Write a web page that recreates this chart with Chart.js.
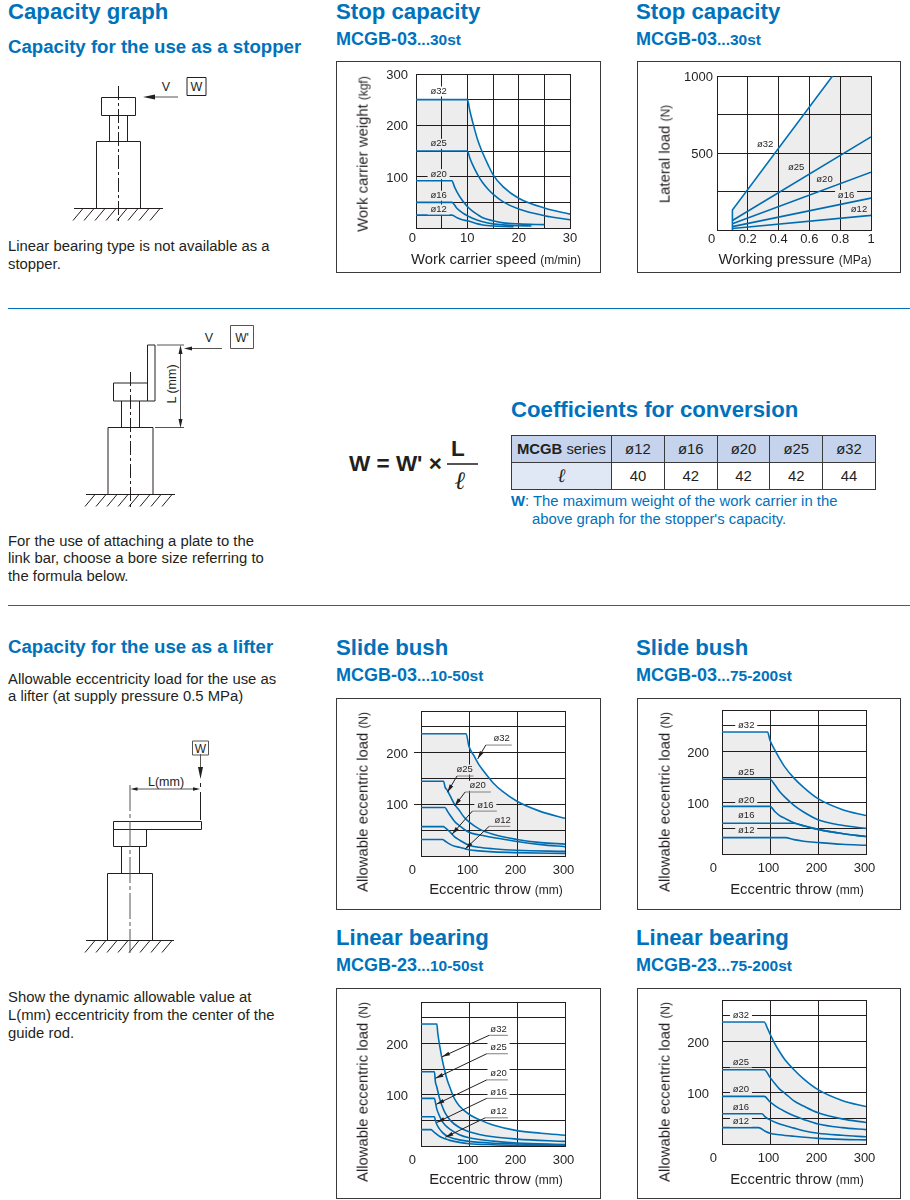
<!DOCTYPE html>
<html lang="en">
<head>
<meta charset="UTF-8">
<title>MCGB capacity graphs</title>
<script src="https://cdn.jsdelivr.net/npm/chart.js"></script>
<style>
    html, body { margin: 0; padding: 0; background: #fff; }
    body { position: relative; width: 910px; height: 1200px; overflow: hidden; font-family: "Liberation Sans", Arial, sans-serif; color: #231f20; }
    .t { position: absolute; white-space: nowrap; line-height: 1; }
    .h1 { font-size: 22.2px; font-weight: bold; color: #0072bc; }
    .h2 { font-size: 18.65px; font-weight: bold; color: #0072bc; }
    .h3 { font-size: 18px; font-weight: bold; color: #0072bc; }
    .h3 small { font-size: 15.5px; }
    .b { font-size: 14.85px; }
    .note { font-size: 14.85px; color: #0072bc; }
    .rule { position: absolute; left: 8px; width: 902px; height: 1px; background: #0072bc; }
    .frame { position: absolute; box-sizing: border-box; border: 1px solid #3a3a3a; }
    canvas { position: absolute; }
    .xt, .yt { position: absolute; white-space: nowrap; line-height: 1; font-size: 14.85px; }
    .xt small, .yt small { font-size: 12px; }
    .xt { transform: translate(-50%, -50%); }
    .yt { transform: translate(-50%, -50%) rotate(-90deg); }
    table { position: absolute; left: 511px; top: 435px; width: 365px; height: 53px; border-collapse: collapse; table-layout: fixed; font-size: 14.85px; }
    td { border: 1px solid #3a3a3a; text-align: center; padding: 0; height: 26px; }
    .hd { background: #c5d4ec; }
    .sub { background: #e1e8f5; font-family: "Liberation Serif", serif; font-style: italic; font-size: 19px; }
    svg { position: absolute; left: 0; top: 0; }
    svg text { font-family: "Liberation Sans", Arial, sans-serif; fill: #231f20; }
</style>
</head>
<body>

<svg width="910" height="1200" fill="none" stroke="#231f20" stroke-width="1">
    <!-- stopper sketch -->
    <path d="M101.5 97.5h34v18h-34zM109.5 115.5v26M127.5 115.5v26M96.5 141.5h44v67h-44zM74 208.5h89"/>
    <path d="M83 208.5l-10 12M94 208.5l-10 12M105 208.5l-10 12M116 208.5l-10 12M127 208.5l-10 12M138 208.5l-10 12M149 208.5l-10 12M160 208.5l-10 12"/>
    <path d="M118.5 86v136" stroke-dasharray="14 3 3 3"/>
    <path d="M178 97h-28" stroke="#555"/><path d="M143 97l12-2.500v5z" fill="#231f20" stroke="none"/>
    <path d="M187 77.500h19v18h-19z"/>
    <text x="166" y="91" font-size="12.5" text-anchor="middle" stroke="none">V</text>
    <text x="196.500" y="91" font-size="12.500" text-anchor="middle" stroke="none">W</text>

    <!-- plate sketch -->
    <path d="M147.500 345h7.500v56h-7.500zM113.500 383h34v18h-34zM121.500 401v27M139.500 401v27M108 427.500h45v67h-45zM86 494.500h89"/>
    <path d="M95 494.500l-10 12M106 494.500l-10 12M117 494.500l-10 12M128 494.500l-10 12M139 494.500l-10 12M150 494.500l-10 12M161 494.500l-10 12M172 494.500l-10 12"/>
    <path d="M130.500 372v137" stroke-dasharray="14 3 3 3"/>
    <path d="M157 345h27M155 427.500h29M180.500 349v75" stroke="#555"/>
    <path d="M180.500 345l-2 9h4zM180.500 428l-2-9h4z" fill="#231f20" stroke="none"/>
    <path d="M222 348.500h-34" stroke="#555"/><path d="M184 348.500l8-2v4z" fill="#231f20" stroke="none"/>
    <path d="M230.500 325.500h23v23h-23z" stroke="#555"/>
    <text x="209" y="342" font-size="12.500" text-anchor="middle" stroke="none">V</text>
    <text x="242" y="342" font-size="12" text-anchor="middle" stroke="none">W'</text>
    <text transform="translate(176 384) rotate(-90)" font-size="12.500" text-anchor="middle" stroke="none">L (mm)</text>

    <!-- lifter sketch -->
    <path d="M113.500 821.500h88v8h-88zM113.500 829.500h33v17h-33zM121.500 846.500v27M139.500 846.500v27M107.500 873.500h45v67h-45zM86 940.500h88"/>
    <path d="M95 940.500l-10 12M106 940.500l-10 12M117 940.500l-10 12M128 940.500l-10 12M139 940.500l-10 12M150 940.500l-10 12M161 940.500l-10 12M172 940.500l-10 12"/>
    <path d="M130 785v168" stroke="#555" stroke-dasharray="26 3 4 3"/>
    <path d="M200.500 754v18" stroke="#555"/><path d="M200.500 779l-2.500-12h5z" fill="#231f20" stroke="none"/>
    <path d="M200.500 783v4M200.500 792v28"/>
    <path d="M134 789h63" stroke="#555"/><path d="M130.500 789l7-1.800v3.600zM200 789l-7-1.800v3.600z" fill="#231f20" stroke="none"/>
    <path d="M192.500 741h16v14h-16z" stroke="#555"/>
    <text x="200.500" y="752.500" font-size="12" text-anchor="middle" stroke="none">W</text>
    <text x="166" y="786" font-size="12.500" text-anchor="middle" stroke="none">L(mm)</text>
</svg>

<div class="t h1" style="left:8px;top:1px">Capacity graph</div>
<div class="t h2" style="left:8px;top:38px">Capacity for the use as a stopper</div>
<div class="t b" style="left:8px;top:239px">Linear bearing type is not available as a</div>
<div class="t b" style="left:8px;top:257px">stopper.</div>

<div class="t h1" style="left:336px;top:1px">Stop capacity</div>
<div class="t h3" style="left:336px;top:30px">MCGB-03<small>...30st</small></div>
<div class="t h1" style="left:636px;top:1px">Stop capacity</div>
<div class="t h3" style="left:636px;top:30px">MCGB-03<small>...30st</small></div>

<div class="rule" style="top:308px"></div>

<div class="t b" style="left:8px;top:534px">For the use of attaching a plate to the</div>
<div class="t b" style="left:8px;top:551px">link bar, choose a bore size referring to</div>
<div class="t b" style="left:8px;top:569px">the formula below.</div>

<div class="t" style="left:349px;top:453px;font-size:22.5px;font-weight:bold">W = W' ×</div>
<div class="t" style="left:451px;top:438px;font-size:22.5px;font-weight:bold">L</div>
<div class="t" style="left:447px;top:463px;width:31px;height:2px;background:#555"></div>
<div class="t" style="left:455px;top:468px;font-size:25px;font-weight:bold;font-style:italic;font-family:'Liberation Serif',serif">ℓ</div>

<div class="t h1" style="left:511px;top:399px">Coefficients for conversion</div>
<table>
    <colgroup><col style="width:100px"><col><col><col><col><col></colgroup>
    <tr class="hd"><td><b>MCGB</b> series</td><td>ø12</td><td>ø16</td><td>ø20</td><td>ø25</td><td>ø32</td></tr>
    <tr><td class="sub">ℓ</td><td>40</td><td>42</td><td>42</td><td>42</td><td>44</td></tr>
</table>
<div class="t note" style="left:511px;top:494px"><b>W</b>: The maximum weight of the work carrier in the</div>
<div class="t note" style="left:532px;top:512px">above graph for the stopper's capacity.</div>

<div class="rule" style="top:605px"></div>

<div class="t h2" style="left:8px;top:638px">Capacity for the use as a lifter</div>
<div class="t b" style="left:8px;top:672px">Allowable eccentricity load for the use as</div>
<div class="t b" style="left:8px;top:689px">a lifter (at supply pressure 0.5 MPa)</div>

<div class="t h1" style="left:336px;top:637px">Slide bush</div>
<div class="t h3" style="left:336px;top:666px">MCGB-03<small>...10-50st</small></div>
<div class="t h1" style="left:636px;top:637px">Slide bush</div>
<div class="t h3" style="left:636px;top:666px">MCGB-03<small>...75-200st</small></div>
<div class="t h1" style="left:336px;top:927px">Linear bearing</div>
<div class="t h3" style="left:336px;top:956px">MCGB-23<small>...10-50st</small></div>
<div class="t h1" style="left:636px;top:927px">Linear bearing</div>
<div class="t h3" style="left:636px;top:956px">MCGB-23<small>...75-200st</small></div>

<div class="t b" style="left:8px;top:990px">Show the dynamic allowable value at</div>
<div class="t b" style="left:8px;top:1008px">L(mm) eccentricity from the center of the</div>
<div class="t b" style="left:8px;top:1026px">guide rod.</div>

<script>
// tick positions and their labels
const speedTicks = [0, 5, 10, 15, 20, 25, 30]
const speedLabels = ['0  ', '', '10', '', '20', '', '30']
const weightTicks = [0, 50, 100, 150, 200, 250, 300]
const weightLabels = ['', '', '100', '', '200', '', '300']
const pressureTicks = [0, 0.2, 0.4, 0.6, 0.8, 1]
const pressureLabels = ['0   ', '0.2', '0.4', '0.6', '0.8', '1']
const lateralTicks = [0, 250, 500, 750, 1000]
const lateralLabels = ['', '', '500', '', '1000']
const throwTicks = [0, 100, 200, 300]
const throwLabels = ['0    ', '100', '200', '300']
const loadTicks = [0, 50, 100, 150, 200, 250, 281]
const loadLabels = ['', '', '100', '', '200', '', '']

const bores = ['ø32', 'ø25', 'ø20', 'ø16', 'ø12']

// Stop capacity, speed / weight
const speed32 = [[0,250],[10,250],[10.5,228],[11,208],[12,172],[13,146],[14,124],[15,104],[17,80],[20,58],[25,39],[30,27]]
const speed25 = [[0,150],[10,150],[10.5,136],[11,124],[12,104],[13,88],[14,76],[15,66],[17,51],[20,37],[25,24],[30,16]]
const speed20 = [[0,92],[7,92],[7.5,80],[8,70],[9,54],[10,42],[11,33],[12,26],[13,20],[15,14],[17,10],[20,8],[25,6.5]]
const speed16 = [[0,50],[7,50],[8,38],[9,30],[10,24],[11,19],[12,15],[13,12],[15,8],[17,6],[20,4.5],[22.5,4]]
const speed12 = [[0,25],[7,25],[8,20],[9,16],[10,14],[12,8],[13,6],[15,4],[17,3],[19,2.5]]

// Stop capacity, pressure / lateral load
const press32 = [[0.1,0],[0.1,130],[0.75,1000]]
const press25 = [[0.1,62],[1,605]]
const press20 = [[0.1,40],[1,375]]
const press16 = [[0.1,22],[1,207]]
const press12 = [[0.1,10],[1,95]]
const pressShade = [[0.1,0],[0.1,130],[0.75,1000],[1,1000]]

// Slide bush 10-50st
const bushA32 = [[0,237],[94,237],[100,212],[110,195],[120,178],[130,165],[150,142],[170,125],[200,106],[250,86],[300,73]]
const bushA25 = [[0,145],[47,145],[50,134],[55,127],[60,118],[70,100],[80,88],[90,75],[100,66],[120,53],[150,42],[200,32],[250,26],[300,23]]
const bushA20 = [[0,94],[50,94],[55,87],[60,80],[70,67],[80,59],[100,46],[120,41],[150,36],[200,28],[250,22],[300,18]]
const bushA16 = [[0,57],[47,57],[50,55],[60,47],[70,37],[80,31],[100,21],[120,17],[150,14],[200,11],[300,9]]
const bushA12 = [[0,32],[45,32],[50,29],[60,23],[70,19],[80,17],[100,12],[120,10],[150,8],[200,6.5],[300,5]]

// Slide bush 75-200st
const bushB32 = [[0,238],[95,238],[100,222],[110,203],[120,186],[130,171],[150,148],[170,130],[200,108],[250,87],[300,75]]
const bushB25 = [[0,146],[100,146],[110,135],[120,122],[130,112],[150,95],[170,82],[200,67],[250,56],[300,50]]
const bushB20 = [[0,93],[100,93],[110,83],[120,75],[130,70],[150,61],[170,55],[200,48],[250,40],[300,34]]
const bushB16 = [[0,60],[148,60],[170,55],[200,48],[250,40],[300,34]]
const bushB12 = [[0,32],[132,32],[150,28],[170,25],[200,22.5],[250,19],[300,17]]

// Linear bearing 10-50st
const lineA32 = [[0,238],[33,238],[35,220],[40,190],[45,165],[50,145],[55,128],[60,115],[66,100],[70,92],[80,78],[100,62],[125,50],[150,41],[200,30],[250,25],[300,21]]
const lineA25 = [[0,145],[28,145],[30,125],[33,115],[38,95],[44,78],[50,65],[61,50],[80,36],[100,28],[150,18],[200,13.5],[300,9]]
const lineA20 = [[0,93],[28,93],[30,85],[33,72],[37,62],[43,50],[50,41],[60,33],[80,22],[100,16],[150,9.5],[200,6],[300,3]]
const lineA16 = [[0,57],[28,57],[30,50],[33,42],[38,34],[44,27],[50,22],[60,17],[80,12],[100,9],[150,5.5],[200,4],[300,1.5]]
const lineA12 = [[0,32],[21,32],[25,29],[30,25],[40,18],[50,14],[60,11],[80,7],[100,4.5],[150,2.5],[200,1.5],[300,0.8]]

// Linear bearing 75-200st
const lineB32 = [[0,238],[88,238],[95,225],[100,215],[110,196],[120,180],[130,166],[150,145],[170,127],[200,106],[250,85],[300,73]]
const lineB25 = [[0,145],[88,145],[100,130],[110,118],[120,107],[130,100],[150,84],[170,74],[200,61],[250,49],[300,42]]
const lineB20 = [[0,93],[88,93],[100,82],[110,75],[120,69],[130,64],[150,55],[170,48],[200,39],[250,32],[300,28]]
const lineB16 = [[0,59],[83,59],[90,53],[100,47],[120,39],[150,31],[170,26],[200,21],[250,17],[300,14]]
const lineB12 = [[0,32],[76,32],[90,25],[100,21],[120,18],[150,15],[200,11],[250,9],[300,8]]

var ink = '#231f20'
var blue = '#0075bd'
var shade = 'rgba(0,0,0,0.07)'
var shadeSolid = '#ededed'

Chart.defaults.font.family = '"Liberation Sans", Arial, sans-serif'
Chart.defaults.color = ink

function notes(labels, leaders) {
    return {
        id: 'notes',
        afterDatasetsDraw(chart) {
            var c = chart.ctx, sx = chart.scales.x, sy = chart.scales.y
            c.save()
            c.font = '9.5px "Liberation Sans", Arial, sans-serif'
            c.textAlign = 'center'
            c.textBaseline = 'middle'
            labels.forEach(function (l, i) {
                var px = sx.getPixelForValue(l[0]), py = sy.getPixelForValue(l[1])
                c.fillStyle = l[2] ? '#fff' : shadeSolid
                c.fillRect(px - 11, py - 5, 22, 10)
            })
            ;(leaders || []).forEach(function (p) {
                var a = [0, 1, 2].map(function (i) { return [sx.getPixelForValue(p[i][0]), sy.getPixelForValue(p[i][1])] })
                c.strokeStyle = '#808080'
                c.lineWidth = 1
                c.beginPath(); c.moveTo(a[0][0], a[0][1]); c.lineTo(a[1][0], a[1][1]); c.stroke()
                c.strokeStyle = ink
                c.beginPath(); c.moveTo(a[1][0], a[1][1]); c.lineTo(a[2][0], a[2][1]); c.stroke()
                var ang = Math.atan2(a[2][1] - a[1][1], a[2][0] - a[1][0])
                c.save()
                c.translate(a[2][0], a[2][1])
                c.rotate(ang)
                c.fillStyle = ink
                c.beginPath(); c.moveTo(0, 0); c.lineTo(-8, -2); c.lineTo(-8, 2); c.closePath(); c.fill()
                c.restore()
            })
            labels.forEach(function (l, i) {
                c.fillStyle = ink
                c.fillText(bores[i], sx.getPixelForValue(l[0]), sy.getPixelForValue(l[1]))
            })
            c.restore()
        }
    }
}

function drawChart(o) {
    var f = o.frame, p = o.plot
    var frame = document.createElement('div')
    frame.className = 'frame'
    frame.style.cssText = 'left:' + f[0] + 'px;top:' + f[1] + 'px;width:' + (f[2] - f[0]) + 'px;height:' + (f[3] - f[1]) + 'px'
    document.body.appendChild(frame)

    var cv = document.createElement('canvas')
    cv.width = f[2] - f[0]
    cv.height = f[3] - f[1]
    cv.style.left = f[0] + 'px'
    cv.style.top = f[1] + 'px'
    document.body.appendChild(cv)

    var xt = document.createElement('div')
    xt.className = 'xt'
    xt.style.left = o.xTitlePos[0] + 'px'
    xt.style.top = o.xTitlePos[1] + 'px'
    xt.innerHTML = o.xTitle + ' <small>' + o.xUnit + '</small>'
    document.body.appendChild(xt)

    var yt = document.createElement('div')
    yt.className = 'yt'
    yt.style.left = o.yTitlePos[0] + 'px'
    yt.style.top = o.yTitlePos[1] + 'px'
    yt.innerHTML = o.yTitle + ' <small>' + o.yUnit + '</small>'
    document.body.appendChild(yt)

    var yW = 40, xH = 20
    var style = o.straight ? { tension: 0 } : { cubicInterpolationMode: 'monotone' }
    var sets = [Object.assign({ data: o.shade.map(toPoint), borderWidth: 0, pointRadius: 0, fill: 'origin', backgroundColor: shade, borderColor: 'transparent' }, style)]
    o.series.forEach(function (s) {
        sets.push(Object.assign({ data: s.map(toPoint), borderColor: blue, borderWidth: 1.6, pointRadius: 0, fill: false }, style))
    })
    var marks = o.yMarks || []

    new Chart(cv, {
        type: 'line',
        data: { datasets: sets },
        options: {
            responsive: false,
            animation: false,
            layout: { padding: { left: p[0] - f[0] - yW, right: f[2] - p[1], top: p[2] - f[1], bottom: f[3] - p[3] - xH } },
            plugins: { legend: { display: false }, tooltip: { enabled: false } },
            scales: {
                x: {
                    type: 'linear', min: o.xTicks[0], max: o.xTicks[o.xTicks.length - 1],
                    afterBuildTicks: function (s) { s.ticks = o.xTicks.map(function (v) { return { value: v } }) },
                    afterFit: function (s) { s.height = xH; s.paddingLeft = 0; s.paddingRight = 0 },
                    grid: { color: ink, lineWidth: 1, drawTicks: false },
                    border: { color: ink },
                    ticks: { autoSkip: false, maxRotation: 0, padding: o.xPad, labelOffset: o.xShift || 0, font: { size: 13 }, callback: function (v, i) { return o.xLabels[i] } }
                },
                y: {
                    type: 'linear', min: 0, max: o.yTicks[o.yTicks.length - 1],
                    afterBuildTicks: function (s) { s.ticks = o.yTicks.map(function (v) { return { value: v } }) },
                    // tick padding would otherwise push the plot area down
                    afterFit: function (s) { s.width = yW; s.paddingTop = 0; s.paddingBottom = 0 },
                    grid: {
                        color: ink, lineWidth: 1, drawTicks: marks.length > 0, tickLength: 7,
                        tickColor: function (c) { return c.tick && marks.includes(c.tick.value) ? ink : 'transparent' }
                    },
                    border: { color: ink },
                    ticks: { autoSkip: false, padding: o.yPad, labelOffset: 1.5, font: { size: 13 }, callback: function (v, i) { return o.yLabels[i] } }
                }
            }
        },
        plugins: [notes(o.labels, o.leaders)]
    })
}

function toPoint(p) { return { x: p[0], y: p[1] } }

// ------------------ stop capacity ------------------
drawChart({
    frame: [336, 61, 601, 273], plot: [416, 570, 74, 228],
    xTicks: speedTicks, xLabels: speedLabels, yTicks: weightTicks, yLabels: weightLabels, xPad: 3, yPad: 8,
    xTitle: 'Work carrier speed', xUnit: '(m/min)', xTitlePos: [496, 259],
    yTitle: 'Work carrier weight', yUnit: '(kgf)', yTitlePos: [363, 154],
    series: [speed32, speed25, speed20, speed16, speed12], shade: speed32,
    labels: [[4.4, 266, true], [4.4, 164], [4.4, 105], [4.4, 63], [4.4, 36]]
})
drawChart({
    frame: [637, 61, 901, 273], plot: [717, 871, 76, 230],
    xTicks: pressureTicks, xLabels: pressureLabels, yTicks: lateralTicks, yLabels: lateralLabels, xPad: 2, yPad: 4,
    xTitle: 'Working pressure', xUnit: '(MPa)', xTitlePos: [795, 259],
    yTitle: 'Lateral load', yUnit: '(N)', yTitlePos: [665, 154],
    series: [press32, press25, press20, press16, press12], shade: pressShade, straight: true,
    labels: [[0.313, 558, true], [0.514, 405], [0.698, 328], [0.838, 228], [0.922, 134]]
})

// ------------------ lifter ------------------
drawChart({
    frame: [336, 698, 601, 910], plot: [421, 565, 711, 856],
    xTicks: throwTicks, xLabels: throwLabels, yTicks: loadTicks, yLabels: loadLabels, xPad: 7, yPad: 6, xShift: -1.5, yMarks: [100, 200],
    xTitle: 'Eccentric throw', xUnit: '(mm)', xTitlePos: [496, 889],
    yTitle: 'Allowable eccentric load', yUnit: '(N)', yTitlePos: [363, 802],
    series: [bushA32, bushA25, bushA20, bushA16, bushA12], shade: bushA32,
    labels: [[168, 227, true], [91, 167.5], [118, 136], [134, 98], [170, 69]],
    leaders: [
        [[189, 215], [135, 215], [118, 188]],
        [[109.5, 155], [75, 155], [55, 123.5]],
        [[145.5, 124], [92, 124], [70, 97]],
        [[158, 87], [107, 87], [64.5, 42]],
        [[186, 57.5], [142, 57.5], [92, 13.6]]
    ]
})
drawChart({
    frame: [637, 698, 901, 910], plot: [722, 866, 710, 854],
    xTicks: throwTicks, xLabels: throwLabels, yTicks: loadTicks, yLabels: loadLabels, xPad: 7, yPad: 13, xShift: -1.5,
    xTitle: 'Eccentric throw', xUnit: '(mm)', xTitlePos: [797, 889],
    yTitle: 'Allowable eccentric load', yUnit: '(N)', yTitlePos: [665, 802],
    series: [bushB32, bushB25, bushB20, bushB16, bushB12], shade: bushB32,
    labels: [[50.5, 251, true], [50.5, 160], [50.5, 105.6], [50.5, 75.8], [50.5, 46]]
})
drawChart({
    frame: [336, 988, 601, 1199], plot: [421, 565, 1002, 1146],
    xTicks: throwTicks, xLabels: throwLabels, yTicks: loadTicks, yLabels: loadLabels, xPad: 7, yPad: 13, xShift: -1.5,
    xTitle: 'Eccentric throw', xUnit: '(mm)', xTitlePos: [496, 1179],
    yTitle: 'Allowable eccentric load', yUnit: '(N)', yTitlePos: [363, 1092],
    series: [lineA32, lineA25, lineA20, lineA16, lineA12], shade: lineA32,
    labels: [[161.5, 228, true], [161.5, 193, true], [161.5, 141, true], [161.5, 105.5, true], [161.5, 66.6, true]],
    leaders: [
        [[181, 216], [142, 216], [43.7, 174]],
        [[181, 180], [137, 180], [30, 132]],
        [[181, 129], [137, 129], [32, 81.5]],
        [[181, 93], [137, 93], [33, 46]],
        [[181, 55], [134, 55], [50.6, 17]]
    ]
})
drawChart({
    frame: [637, 988, 901, 1199], plot: [722, 866, 1000, 1144],
    xTicks: throwTicks, xLabels: throwLabels, yTicks: loadTicks, yLabels: loadLabels, xPad: 7, yPad: 13, xShift: -1.5,
    xTitle: 'Eccentric throw', xUnit: '(mm)', xTitlePos: [797, 1179],
    yTitle: 'Allowable eccentric load', yUnit: '(N)', yTitlePos: [665, 1092],
    series: [lineB32, lineB25, lineB20, lineB16, lineB12], shade: lineB32,
    labels: [[39.5, 251, true], [39.5, 159], [39.5, 106], [39.5, 71], [39.5, 43.6]]
})
</script>
</body>
</html>
